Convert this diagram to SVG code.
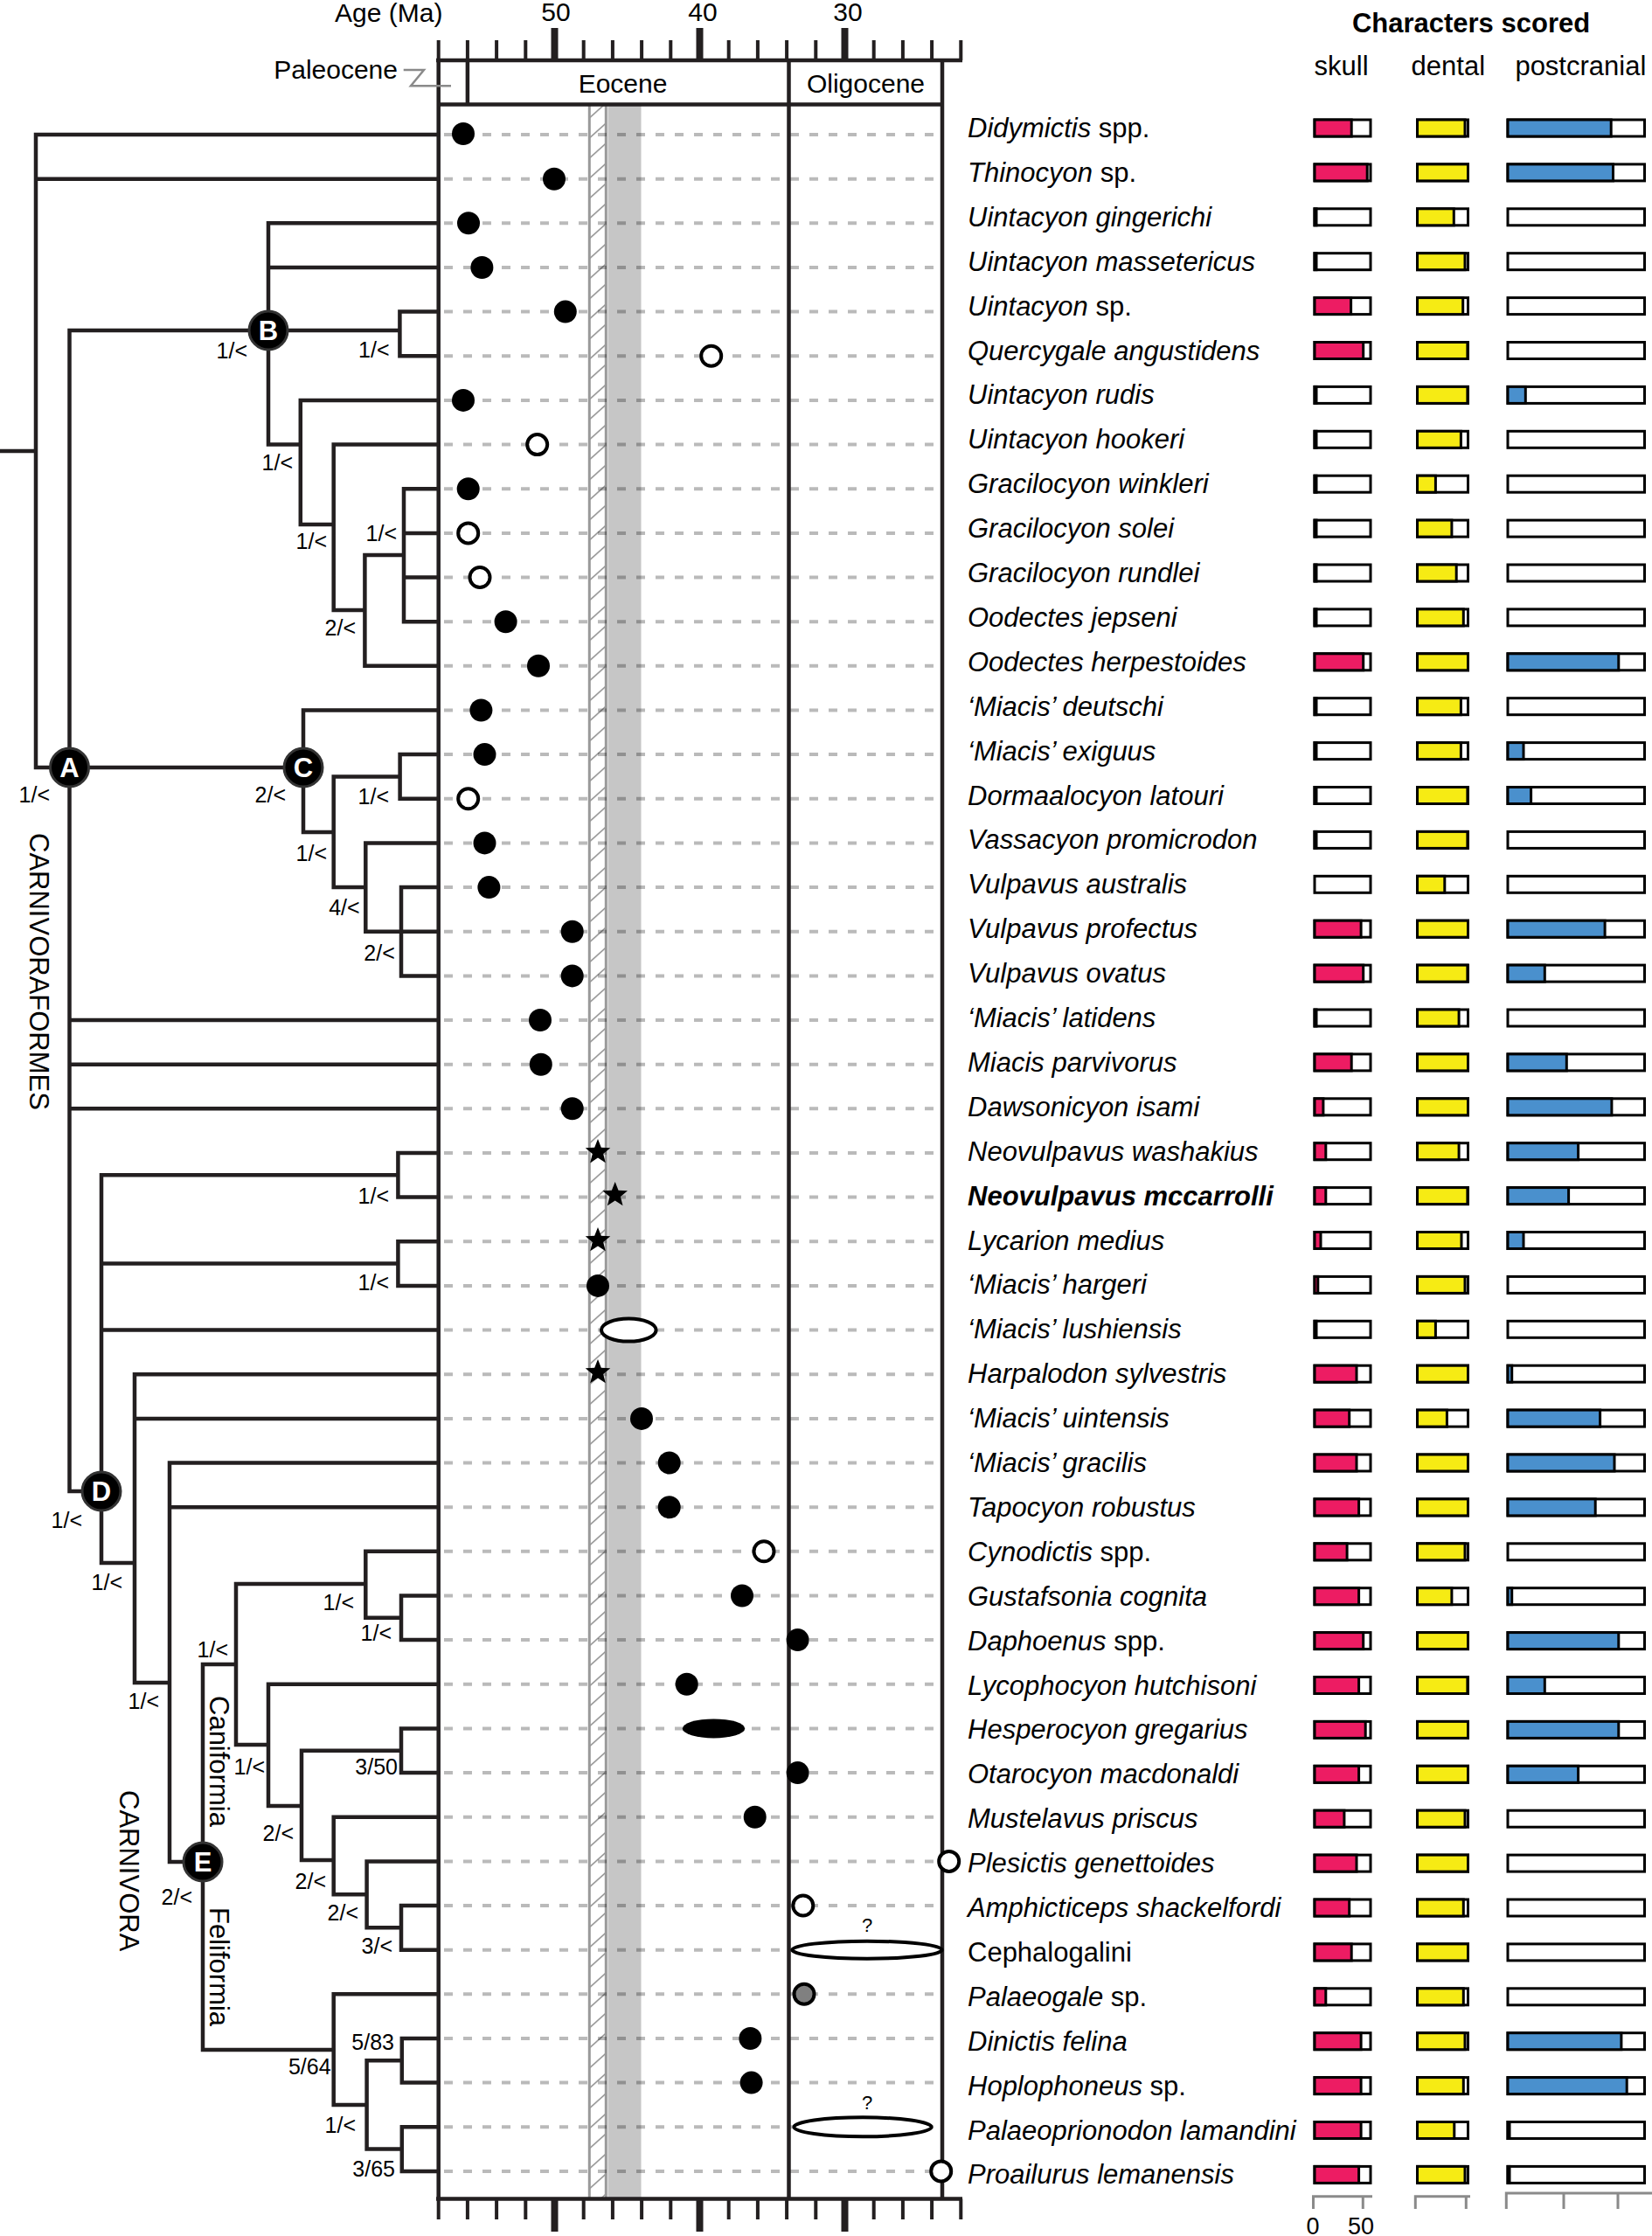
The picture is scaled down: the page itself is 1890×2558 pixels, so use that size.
<svg xmlns="http://www.w3.org/2000/svg" xmlns:xlink="http://www.w3.org/1999/xlink" width="1890" height="2558" viewBox="0 0 1890 2558">
<style>
text{font-family:"Liberation Sans",Arial,Helvetica,sans-serif;fill:#000}
.tx{font-size:31px}
.i{font-style:italic}
.lb{font-size:25px}
.ax{font-size:30px}
.ln{fill:none;stroke:#231f20;stroke-width:4.5;stroke-linecap:square;stroke-linejoin:miter}
.fr{fill:none;stroke:#231f20;stroke-width:4.5}
.dash{fill:none;stroke:#000;stroke-opacity:0.27;stroke-width:4;stroke-dasharray:10 12}
.fd{fill:#000}
.op{fill:#fff;stroke:#000;stroke-width:4}
.bo{fill:#fff;stroke:#000;stroke-width:3}
.sk{fill:#ed1c63;stroke:#000;stroke-width:3}
.de{fill:#f6eb14;stroke:#000;stroke-width:3}
.po{fill:#4a90cd;stroke:#000;stroke-width:3}
.nc{fill:#000;stroke:#333;stroke-width:3}
.nl{font-size:31px;font-weight:bold;fill:#fff;text-anchor:middle}
.gs{fill:none;stroke:#8a8a8a;stroke-width:3}
</style>
<defs>
<pattern id="hatch" patternUnits="userSpaceOnUse" x="674.3" y="0" width="19" height="23">
<path d="M0,20 L19,3" stroke="#8a8a8a" stroke-width="1.5"/>
</pattern>
<path id="star" d="M0,-15 L3.82,-5.26 L14.27,-4.64 L6.18,2.01 L8.82,12.14 L0,6.5 L-8.82,12.14 L-6.18,2.01 L-14.27,-4.64 L-3.82,-5.26 Z"/>
</defs>
<rect width="1890" height="2558" fill="#fff"/>

<g id="timescale">
<rect x="674.3" y="121" width="19" height="2393" fill="url(#hatch)"/>
<rect x="695.5" y="121" width="38" height="2393" fill="#c6c6c6"/>
<path d="M674.3,121 V2514 M693.3,121 V2514" stroke="#999" stroke-width="3" fill="none"/>
<path class="dash" d="M508,154 H1076 M508,204.7 H1076 M508,255.3 H1076 M508,306 H1076 M508,356.6 H1076 M508,407.3 H1076 M508,457.9 H1076 M508,508.6 H1076 M508,559.2 H1076 M508,609.9 H1076 M508,660.5 H1076 M508,711.2 H1076 M508,761.8 H1076 M508,812.5 H1076 M508,863.1 H1076 M508,913.8 H1076 M508,964.4 H1076 M508,1015.1 H1076 M508,1065.7 H1076 M508,1116.4 H1076 M508,1167 H1076 M508,1217.7 H1076 M508,1268.3 H1076 M508,1319 H1076 M508,1369.6 H1076 M508,1420.3 H1076 M508,1470.9 H1076 M508,1521.6 H1076 M508,1572.2 H1076 M508,1622.9 H1076 M508,1673.5 H1076 M508,1724.2 H1076 M508,1774.8 H1076 M508,1825.5 H1076 M508,1876.1 H1076 M508,1926.8 H1076 M508,1977.4 H1076 M508,2028.1 H1076 M508,2078.7 H1076 M508,2129.4 H1076 M508,2180 H1076 M508,2230.7 H1076 M508,2281.3 H1076 M508,2332 H1076 M508,2382.6 H1076 M508,2433.3 H1076 M508,2483.9 H1076"/>
<rect x="501.7" y="69" width="576.3" height="50.5" fill="#fff" stroke="none"/>
<path class="fr" d="M501.7,69 V2515.6 M1078,69 V2515.6 M902.5,69 V2515.6 M534.9,69 V119.5 M501.7,119.5 H1078 M499,69 H1101 M499,2515.6 H1101"/>
<path d="M501.7,46 V69 M534.9,46 V69 M568.1,46 V69 M601.3,46 V69 M667.7,46 V69 M700.9,46 V69 M734.1,46 V69 M767.3,46 V69 M833.7,46 V69 M866.9,46 V69 M900.1,46 V69 M933.3,46 V69 M999.7,46 V69 M1032.9,46 V69 M1066.1,46 V69 M1099.3,46 V69" stroke="#231f20" stroke-width="4" fill="none"/>
<path d="M634.5,32 V69 M800.5,32 V69 M966.5,32 V69" stroke="#231f20" stroke-width="8" fill="none"/>
<path d="M501.7,2515.6 V2539 M534.9,2515.6 V2539 M568.1,2515.6 V2539 M601.3,2515.6 V2539 M667.7,2515.6 V2539 M700.9,2515.6 V2539 M734.1,2515.6 V2539 M767.3,2515.6 V2539 M833.7,2515.6 V2539 M866.9,2515.6 V2539 M900.1,2515.6 V2539 M933.3,2515.6 V2539 M999.7,2515.6 V2539 M1032.9,2515.6 V2539 M1066.1,2515.6 V2539 M1099.3,2515.6 V2539" stroke="#231f20" stroke-width="4" fill="none"/>
<path d="M634.5,2515.6 V2553 M800.5,2515.6 V2553 M966.5,2515.6 V2553" stroke="#231f20" stroke-width="8" fill="none"/>
<text class="ax" x="383" y="25" font-size="31">Age (Ma)</text>
<text class="ax" x="636" y="24" text-anchor="middle">50</text>
<text class="ax" x="804" y="24" text-anchor="middle">40</text>
<text class="ax" x="970" y="24" text-anchor="middle">30</text>
<text class="ax" x="455" y="90" text-anchor="end">Paleocene</text>
<polyline points="461.7,80 485,80 470,98.3 516,98.3" fill="none" stroke="#8a8a8a" stroke-width="2.5"/>
<text class="ax" x="712.5" y="106" text-anchor="middle">Eocene</text>
<text class="ax" x="990.5" y="106" text-anchor="middle">Oligocene</text>
</g>

<g id="connectors" class="ln">
<path d="M0,516 H41 M41,154 V878 H79.5 M41,154 H501 M41,204.7 H501
M79.5,378 V1706 H116 M79.5,378 H457.4 M79.5,878 H347 M79.5,1167 H501 M79.5,1217.7 H501 M79.5,1268.3 H501
M307,255.3 V508.6 H343.8 M307,255.3 H501 M307,306 H501
M457.4,356.6 V407.3 M457.4,356.6 H501 M457.4,407.3 H501
M343.8,457.9 V600 H381.7 M343.8,457.9 H501
M381.7,508.6 V698 H417.4 M381.7,508.6 H501
M417.4,635 V761.8 H501 M417.4,635 H462
M462,559.2 V711.2 M462,559.2 H501 M462,609.9 H501 M462,660.5 H501 M462,711.2 H501
M347,812.5 V952 H381.7 M347,812.5 H501
M381.7,888.4 V1015 H418.3 M381.7,888.4 H457.6
M457.6,863.1 V913.8 M457.6,863.1 H501 M457.6,913.8 H501
M418.3,964.4 V1065.7 H501 M418.3,964.4 H501
M459,1015.1 V1116.4 M459,1015.1 H501 M459,1116.4 H501
M116,1344.3 V1788 H154 M116,1344.3 H455.4 M116,1445.6 H455.4 M116,1521.6 H501
M455.4,1319 V1369.6 M455.4,1319 H501 M455.4,1369.6 H501
M455.4,1420.3 V1470.9 M455.4,1420.3 H501 M455.4,1470.9 H501
M154,1572.2 V1925 H194 M154,1572.2 H501 M154,1622.9 H501
M194,1673.5 V2130 H232 M194,1673.5 H501 M194,1724.2 H501
M232,1904 V2345 H381.7 M232,1904 H270
M270,1812 V1996 H307 M270,1812 H418.3
M418.3,1774.8 V1850.8 H459 M418.3,1774.8 H501
M459,1825.5 V1876.1 M459,1825.5 H501 M459,1876.1 H501
M307,1926.8 V2066 H345 M307,1926.8 H501
M345,2002.7 V2128 H381.7 M345,2002.7 H459
M459,1977.4 V2028.1 M459,1977.4 H501 M459,2028.1 H501
M381.7,2078.7 V2167.3 H419.6 M381.7,2078.7 H501
M419.6,2129.4 V2205.3 H459 M419.6,2129.4 H501
M459,2180 V2230.7 M459,2180 H501 M459,2230.7 H501
M381.7,2281.3 V2408 H419.6 M381.7,2281.3 H501
M419.6,2357.3 V2458.6 H459.8 M419.6,2357.3 H459.8
M459.8,2332 V2382.6 M459.8,2332 H501 M459.8,2382.6 H501
M459.8,2433.3 V2483.9 M459.8,2433.3 H501 M459.8,2483.9 H501"/>
</g>

<g id="support-labels" class="lb" text-anchor="end">
<text x="57" y="917.5">1/&lt;</text>
<text x="283" y="410">1/&lt;</text>
<text x="445.5" y="409">1/&lt;</text>
<text x="335" y="538">1/&lt;</text>
<text x="374" y="627.5">1/&lt;</text>
<text x="454" y="618.5">1/&lt;</text>
<text x="407" y="726.5">2/&lt;</text>
<text x="327" y="917.5">2/&lt;</text>
<text x="445" y="919.5">1/&lt;</text>
<text x="374" y="984.5">1/&lt;</text>
<text x="411.6" y="1047">4/&lt;</text>
<text x="451.8" y="1098.5">2/&lt;</text>
<text x="445" y="1376.5">1/&lt;</text>
<text x="445" y="1475.5">1/&lt;</text>
<text x="94" y="1748">1/&lt;</text>
<text x="140" y="1818.5">1/&lt;</text>
<text x="182" y="1954.5">1/&lt;</text>
<text x="220" y="2178.5">2/&lt;</text>
<text x="261" y="1896">1/&lt;</text>
<text x="405" y="1841.5">1/&lt;</text>
<text x="448" y="1876.5">1/&lt;</text>
<text x="303" y="2030">1/&lt;</text>
<text x="455" y="2030">3/50</text>
<text x="336" y="2105.5">2/&lt;</text>
<text x="373" y="2160.5">2/&lt;</text>
<text x="410" y="2197">2/&lt;</text>
<text x="449" y="2234.5">3/&lt;</text>
<text x="378.6" y="2372.5">5/64</text>
<text x="451" y="2344.5">5/83</text>
<text x="407" y="2439.5">1/&lt;</text>
<text x="452" y="2489.5">3/65</text>
</g>

<g id="clade-names" font-size="31">
<text transform="translate(33.5,953) rotate(90)">CARNIVORAFORMES</text>
<text transform="translate(136.5,2048) rotate(90)">CARNIVORA</text>
<text transform="translate(239.5,1940) rotate(90)">Caniformia</text>
<text transform="translate(239.5,2182) rotate(90)">Feliformia</text>
</g>

<g id="nA"><circle class="nc" cx="79.5" cy="878" r="22"/><text class="nl" x="79.5" y="889">A</text></g>
<g id="nB"><circle class="nc" cx="307" cy="378" r="22"/><text class="nl" x="307" y="389">B</text></g>
<g id="nC"><circle class="nc" cx="347" cy="878" r="22"/><text class="nl" x="347" y="889">C</text></g>
<g id="nD"><circle class="nc" cx="116" cy="1706" r="22"/><text class="nl" x="116" y="1717">D</text></g>
<g id="nE"><circle class="nc" cx="232" cy="2130" r="22"/><text class="nl" x="232" y="2141">E</text></g>

<g id="occurrences">
<circle class="fd" cx="530" cy="153" r="13"/>
<circle class="fd" cx="634" cy="204.7" r="13"/>
<circle class="fd" cx="536" cy="255.3" r="13"/>
<circle class="fd" cx="551.4" cy="306" r="13"/>
<circle class="fd" cx="646.8" cy="356.6" r="13"/>
<circle class="op" cx="813.7" cy="407.3" r="11.5"/>
<circle class="fd" cx="530" cy="457.9" r="13"/>
<circle class="op" cx="614.7" cy="508.6" r="11.5"/>
<circle class="fd" cx="535.7" cy="559.2" r="13"/>
<circle class="op" cx="535.7" cy="609.9" r="11.5"/>
<circle class="op" cx="549" cy="660.5" r="11.5"/>
<circle class="fd" cx="578.6" cy="711.2" r="13"/>
<circle class="fd" cx="616" cy="761.8" r="13"/>
<circle class="fd" cx="550.4" cy="812.5" r="13"/>
<circle class="fd" cx="554.5" cy="863.1" r="13"/>
<circle class="op" cx="535.7" cy="913.8" r="11.5"/>
<circle class="fd" cx="554.5" cy="964.4" r="13"/>
<circle class="fd" cx="559.4" cy="1015.1" r="13"/>
<circle class="fd" cx="654.7" cy="1065.7" r="13"/>
<circle class="fd" cx="654.7" cy="1116.4" r="13"/>
<circle class="fd" cx="618" cy="1167" r="13"/>
<circle class="fd" cx="618.8" cy="1217.7" r="13"/>
<circle class="fd" cx="654.7" cy="1268.3" r="13"/>
<use xlink:href="#star" x="684" y="1318"/>
<use xlink:href="#star" x="703.7" y="1367"/>
<use xlink:href="#star" x="684" y="1419"/>
<circle class="fd" cx="684" cy="1470.9" r="13"/>
<ellipse class="op" cx="719.3" cy="1521.6" rx="31.3" ry="13"/>
<use xlink:href="#star" x="684" y="1570"/>
<circle class="fd" cx="734" cy="1622.9" r="13"/>
<circle class="fd" cx="765.7" cy="1673.5" r="13"/>
<circle class="fd" cx="765.7" cy="1724.2" r="13"/>
<circle class="op" cx="874" cy="1774.8" r="11.5"/>
<circle class="fd" cx="849" cy="1825.5" r="13"/>
<circle class="fd" cx="912.6" cy="1876.1" r="13"/>
<circle class="fd" cx="785.7" cy="1926.8" r="13"/>
<ellipse class="fd" cx="816.5" cy="1977.4" rx="35.7" ry="11"/>
<circle class="fd" cx="912.6" cy="2028.1" r="13"/>
<circle class="fd" cx="863.7" cy="2078.7" r="13"/>
<circle class="op" cx="1085.7" cy="2129.4" r="11.5"/>
<circle class="op" cx="918.8" cy="2180" r="11.5"/>
<ellipse class="op" cx="992" cy="2230.7" rx="85.7" ry="10"/>
<text x="992" y="2210" font-size="22" text-anchor="middle">?</text>
<circle cx="920" cy="2281.3" r="11.5" fill="#808080" stroke="#000" stroke-width="4"/>
<circle class="fd" cx="858.4" cy="2332" r="13"/>
<circle class="fd" cx="859.6" cy="2382.6" r="13"/>
<ellipse class="op" cx="987" cy="2433.3" rx="78.6" ry="11"/>
<text x="992" y="2413" font-size="22" text-anchor="middle">?</text>
<circle class="op" cx="1076.7" cy="2483.9" r="11.5"/>
</g>

<g id="headers">
<text x="1683" y="37" font-size="31" font-weight="bold" text-anchor="middle">Characters scored</text>
<text class="tx" x="1503.6" y="86">skull</text>
<text class="tx" x="1614.6" y="86">dental</text>
<text class="tx" x="1733.4" y="86">postcranial</text>
</g>

<g id="t1" transform="translate(0,146.5)"><text class="tx" x="1107" y="10.5"><tspan class="i">Didymictis</tspan> spp.</text><rect class="bo" x="1504" y="-9.5" width="64" height="19"/><rect class="bo" x="1621.5" y="-9.5" width="58" height="19"/><rect class="bo" x="1725" y="-9.5" width="156.5" height="19"/><rect class="sk" x="1504" y="-9.5" width="42.2" height="19"/><rect class="de" x="1621.5" y="-9.5" width="54.5" height="19"/><rect class="po" x="1725" y="-9.5" width="118.2" height="19"/></g>
<g id="t2" transform="translate(0,197.4)"><text class="tx" x="1107" y="10.5"><tspan class="i">Thinocyon</tspan> sp.</text><rect class="bo" x="1504" y="-9.5" width="64" height="19"/><rect class="bo" x="1621.5" y="-9.5" width="58" height="19"/><rect class="bo" x="1725" y="-9.5" width="156.5" height="19"/><rect class="sk" x="1504" y="-9.5" width="60.2" height="19"/><rect class="de" x="1621.5" y="-9.5" width="58" height="19"/><rect class="po" x="1725" y="-9.5" width="120.5" height="19"/></g>
<g id="t3" transform="translate(0,248.3)"><text class="tx i" x="1107" y="10.5">Uintacyon gingerichi</text><rect class="bo" x="1504" y="-9.5" width="64" height="19"/><rect class="bo" x="1621.5" y="-9.5" width="58" height="19"/><rect class="bo" x="1725" y="-9.5" width="156.5" height="19"/><rect class="sk" x="1504" y="-9.5" width="2" height="19"/><rect class="de" x="1621.5" y="-9.5" width="41.8" height="19"/></g>
<g id="t4" transform="translate(0,299.2)"><text class="tx i" x="1107" y="10.5">Uintacyon massetericus</text><rect class="bo" x="1504" y="-9.5" width="64" height="19"/><rect class="bo" x="1621.5" y="-9.5" width="58" height="19"/><rect class="bo" x="1725" y="-9.5" width="156.5" height="19"/><rect class="sk" x="1504" y="-9.5" width="2" height="19"/><rect class="de" x="1621.5" y="-9.5" width="54.5" height="19"/></g>
<g id="t5" transform="translate(0,350.1)"><text class="tx" x="1107" y="10.5"><tspan class="i">Uintacyon</tspan> sp.</text><rect class="bo" x="1504" y="-9.5" width="64" height="19"/><rect class="bo" x="1621.5" y="-9.5" width="58" height="19"/><rect class="bo" x="1725" y="-9.5" width="156.5" height="19"/><rect class="sk" x="1504" y="-9.5" width="41.6" height="19"/><rect class="de" x="1621.5" y="-9.5" width="52.2" height="19"/></g>
<g id="t6" transform="translate(0,401)"><text class="tx i" x="1107" y="10.5">Quercygale angustidens</text><rect class="bo" x="1504" y="-9.5" width="64" height="19"/><rect class="bo" x="1621.5" y="-9.5" width="58" height="19"/><rect class="bo" x="1725" y="-9.5" width="156.5" height="19"/><rect class="sk" x="1504" y="-9.5" width="55.7" height="19"/><rect class="de" x="1621.5" y="-9.5" width="57.4" height="19"/></g>
<g id="t7" transform="translate(0,451.9)"><text class="tx i" x="1107" y="10.5">Uintacyon rudis</text><rect class="bo" x="1504" y="-9.5" width="64" height="19"/><rect class="bo" x="1621.5" y="-9.5" width="58" height="19"/><rect class="bo" x="1725" y="-9.5" width="156.5" height="19"/><rect class="sk" x="1504" y="-9.5" width="2" height="19"/><rect class="de" x="1621.5" y="-9.5" width="57.4" height="19"/><rect class="po" x="1725" y="-9.5" width="20.3" height="19"/></g>
<g id="t8" transform="translate(0,502.8)"><text class="tx i" x="1107" y="10.5">Uintacyon hookeri</text><rect class="bo" x="1504" y="-9.5" width="64" height="19"/><rect class="bo" x="1621.5" y="-9.5" width="58" height="19"/><rect class="bo" x="1725" y="-9.5" width="156.5" height="19"/><rect class="sk" x="1504" y="-9.5" width="2" height="19"/><rect class="de" x="1621.5" y="-9.5" width="49.9" height="19"/></g>
<g id="t9" transform="translate(0,553.7)"><text class="tx i" x="1107" y="10.5">Gracilocyon winkleri</text><rect class="bo" x="1504" y="-9.5" width="64" height="19"/><rect class="bo" x="1621.5" y="-9.5" width="58" height="19"/><rect class="bo" x="1725" y="-9.5" width="156.5" height="19"/><rect class="sk" x="1504" y="-9.5" width="2" height="19"/><rect class="de" x="1621.5" y="-9.5" width="20.9" height="19"/></g>
<g id="t10" transform="translate(0,604.6)"><text class="tx i" x="1107" y="10.5">Gracilocyon solei</text><rect class="bo" x="1504" y="-9.5" width="64" height="19"/><rect class="bo" x="1621.5" y="-9.5" width="58" height="19"/><rect class="bo" x="1725" y="-9.5" width="156.5" height="19"/><rect class="sk" x="1504" y="-9.5" width="2" height="19"/><rect class="de" x="1621.5" y="-9.5" width="39.4" height="19"/></g>
<g id="t11" transform="translate(0,655.5)"><text class="tx i" x="1107" y="10.5">Gracilocyon rundlei</text><rect class="bo" x="1504" y="-9.5" width="64" height="19"/><rect class="bo" x="1621.5" y="-9.5" width="58" height="19"/><rect class="bo" x="1725" y="-9.5" width="156.5" height="19"/><rect class="sk" x="1504" y="-9.5" width="2" height="19"/><rect class="de" x="1621.5" y="-9.5" width="44.7" height="19"/></g>
<g id="t12" transform="translate(0,706.4)"><text class="tx i" x="1107" y="10.5">Oodectes jepseni</text><rect class="bo" x="1504" y="-9.5" width="64" height="19"/><rect class="bo" x="1621.5" y="-9.5" width="58" height="19"/><rect class="bo" x="1725" y="-9.5" width="156.5" height="19"/><rect class="sk" x="1504" y="-9.5" width="2" height="19"/><rect class="de" x="1621.5" y="-9.5" width="52.8" height="19"/></g>
<g id="t13" transform="translate(0,757.3)"><text class="tx i" x="1107" y="10.5">Oodectes herpestoides</text><rect class="bo" x="1504" y="-9.5" width="64" height="19"/><rect class="bo" x="1621.5" y="-9.5" width="58" height="19"/><rect class="bo" x="1725" y="-9.5" width="156.5" height="19"/><rect class="sk" x="1504" y="-9.5" width="55.7" height="19"/><rect class="de" x="1621.5" y="-9.5" width="58" height="19"/><rect class="po" x="1725" y="-9.5" width="126.8" height="19"/></g>
<g id="t14" transform="translate(0,808.2)"><text class="tx i" x="1107" y="10.5">‘Miacis’ deutschi</text><rect class="bo" x="1504" y="-9.5" width="64" height="19"/><rect class="bo" x="1621.5" y="-9.5" width="58" height="19"/><rect class="bo" x="1725" y="-9.5" width="156.5" height="19"/><rect class="sk" x="1504" y="-9.5" width="2" height="19"/><rect class="de" x="1621.5" y="-9.5" width="49.9" height="19"/></g>
<g id="t15" transform="translate(0,859.1)"><text class="tx i" x="1107" y="10.5">‘Miacis’ exiguus</text><rect class="bo" x="1504" y="-9.5" width="64" height="19"/><rect class="bo" x="1621.5" y="-9.5" width="58" height="19"/><rect class="bo" x="1725" y="-9.5" width="156.5" height="19"/><rect class="sk" x="1504" y="-9.5" width="2" height="19"/><rect class="de" x="1621.5" y="-9.5" width="49.9" height="19"/><rect class="po" x="1725" y="-9.5" width="18" height="19"/></g>
<g id="t16" transform="translate(0,910)"><text class="tx i" x="1107" y="10.5">Dormaalocyon latouri</text><rect class="bo" x="1504" y="-9.5" width="64" height="19"/><rect class="bo" x="1621.5" y="-9.5" width="58" height="19"/><rect class="bo" x="1725" y="-9.5" width="156.5" height="19"/><rect class="sk" x="1504" y="-9.5" width="2" height="19"/><rect class="de" x="1621.5" y="-9.5" width="57.4" height="19"/><rect class="po" x="1725" y="-9.5" width="26.6" height="19"/></g>
<g id="t17" transform="translate(0,960.9)"><text class="tx i" x="1107" y="10.5">Vassacyon promicrodon</text><rect class="bo" x="1504" y="-9.5" width="64" height="19"/><rect class="bo" x="1621.5" y="-9.5" width="58" height="19"/><rect class="bo" x="1725" y="-9.5" width="156.5" height="19"/><rect class="sk" x="1504" y="-9.5" width="2" height="19"/><rect class="de" x="1621.5" y="-9.5" width="57.4" height="19"/></g>
<g id="t18" transform="translate(0,1011.8)"><text class="tx i" x="1107" y="10.5">Vulpavus australis</text><rect class="bo" x="1504" y="-9.5" width="64" height="19"/><rect class="bo" x="1621.5" y="-9.5" width="58" height="19"/><rect class="bo" x="1725" y="-9.5" width="156.5" height="19"/><rect class="de" x="1621.5" y="-9.5" width="31.3" height="19"/></g>
<g id="t19" transform="translate(0,1062.7)"><text class="tx i" x="1107" y="10.5">Vulpavus profectus</text><rect class="bo" x="1504" y="-9.5" width="64" height="19"/><rect class="bo" x="1621.5" y="-9.5" width="58" height="19"/><rect class="bo" x="1725" y="-9.5" width="156.5" height="19"/><rect class="sk" x="1504" y="-9.5" width="53.1" height="19"/><rect class="de" x="1621.5" y="-9.5" width="58" height="19"/><rect class="po" x="1725" y="-9.5" width="111.1" height="19"/></g>
<g id="t20" transform="translate(0,1113.6)"><text class="tx i" x="1107" y="10.5">Vulpavus ovatus</text><rect class="bo" x="1504" y="-9.5" width="64" height="19"/><rect class="bo" x="1621.5" y="-9.5" width="58" height="19"/><rect class="bo" x="1725" y="-9.5" width="156.5" height="19"/><rect class="sk" x="1504" y="-9.5" width="55.7" height="19"/><rect class="de" x="1621.5" y="-9.5" width="57.4" height="19"/><rect class="po" x="1725" y="-9.5" width="42.3" height="19"/></g>
<g id="t21" transform="translate(0,1164.5)"><text class="tx i" x="1107" y="10.5">‘Miacis’ latidens</text><rect class="bo" x="1504" y="-9.5" width="64" height="19"/><rect class="bo" x="1621.5" y="-9.5" width="58" height="19"/><rect class="bo" x="1725" y="-9.5" width="156.5" height="19"/><rect class="sk" x="1504" y="-9.5" width="2" height="19"/><rect class="de" x="1621.5" y="-9.5" width="47.6" height="19"/></g>
<g id="t22" transform="translate(0,1215.4)"><text class="tx i" x="1107" y="10.5">Miacis parvivorus</text><rect class="bo" x="1504" y="-9.5" width="64" height="19"/><rect class="bo" x="1621.5" y="-9.5" width="58" height="19"/><rect class="bo" x="1725" y="-9.5" width="156.5" height="19"/><rect class="sk" x="1504" y="-9.5" width="42.2" height="19"/><rect class="de" x="1621.5" y="-9.5" width="58" height="19"/><rect class="po" x="1725" y="-9.5" width="67.3" height="19"/></g>
<g id="t23" transform="translate(0,1266.3)"><text class="tx i" x="1107" y="10.5">Dawsonicyon isami</text><rect class="bo" x="1504" y="-9.5" width="64" height="19"/><rect class="bo" x="1621.5" y="-9.5" width="58" height="19"/><rect class="bo" x="1725" y="-9.5" width="156.5" height="19"/><rect class="sk" x="1504" y="-9.5" width="9.9" height="19"/><rect class="de" x="1621.5" y="-9.5" width="58" height="19"/><rect class="po" x="1725" y="-9.5" width="118.9" height="19"/></g>
<g id="t24" transform="translate(0,1317.2)"><text class="tx i" x="1107" y="10.5">Neovulpavus washakius</text><rect class="bo" x="1504" y="-9.5" width="64" height="19"/><rect class="bo" x="1621.5" y="-9.5" width="58" height="19"/><rect class="bo" x="1725" y="-9.5" width="156.5" height="19"/><rect class="sk" x="1504" y="-9.5" width="12.8" height="19"/><rect class="de" x="1621.5" y="-9.5" width="47.6" height="19"/><rect class="po" x="1725" y="-9.5" width="80.6" height="19"/></g>
<g id="t25" transform="translate(0,1368.1)"><text class="tx i" x="1107" y="10.5" font-weight="bold">Neovulpavus mccarrolli</text><rect class="bo" x="1504" y="-9.5" width="64" height="19"/><rect class="bo" x="1621.5" y="-9.5" width="58" height="19"/><rect class="bo" x="1725" y="-9.5" width="156.5" height="19"/><rect class="sk" x="1504" y="-9.5" width="12.8" height="19"/><rect class="de" x="1621.5" y="-9.5" width="57.4" height="19"/><rect class="po" x="1725" y="-9.5" width="69.6" height="19"/></g>
<g id="t26" transform="translate(0,1419)"><text class="tx i" x="1107" y="10.5">Lycarion medius</text><rect class="bo" x="1504" y="-9.5" width="64" height="19"/><rect class="bo" x="1621.5" y="-9.5" width="58" height="19"/><rect class="bo" x="1725" y="-9.5" width="156.5" height="19"/><rect class="sk" x="1504" y="-9.5" width="7" height="19"/><rect class="de" x="1621.5" y="-9.5" width="50.5" height="19"/><rect class="po" x="1725" y="-9.5" width="18" height="19"/></g>
<g id="t27" transform="translate(0,1469.9)"><text class="tx i" x="1107" y="10.5">‘Miacis’ hargeri</text><rect class="bo" x="1504" y="-9.5" width="64" height="19"/><rect class="bo" x="1621.5" y="-9.5" width="58" height="19"/><rect class="bo" x="1725" y="-9.5" width="156.5" height="19"/><rect class="sk" x="1504" y="-9.5" width="3.8" height="19"/><rect class="de" x="1621.5" y="-9.5" width="54.5" height="19"/></g>
<g id="t28" transform="translate(0,1520.8)"><text class="tx i" x="1107" y="10.5">‘Miacis’ lushiensis</text><rect class="bo" x="1504" y="-9.5" width="64" height="19"/><rect class="bo" x="1621.5" y="-9.5" width="58" height="19"/><rect class="bo" x="1725" y="-9.5" width="156.5" height="19"/><rect class="sk" x="1504" y="-9.5" width="2" height="19"/><rect class="de" x="1621.5" y="-9.5" width="20.9" height="19"/></g>
<g id="t29" transform="translate(0,1571.7)"><text class="tx i" x="1107" y="10.5">Harpalodon sylvestris</text><rect class="bo" x="1504" y="-9.5" width="64" height="19"/><rect class="bo" x="1621.5" y="-9.5" width="58" height="19"/><rect class="bo" x="1725" y="-9.5" width="156.5" height="19"/><rect class="sk" x="1504" y="-9.5" width="48" height="19"/><rect class="de" x="1621.5" y="-9.5" width="58" height="19"/><rect class="po" x="1725" y="-9.5" width="4.7" height="19"/></g>
<g id="t30" transform="translate(0,1622.6)"><text class="tx i" x="1107" y="10.5">‘Miacis’ uintensis</text><rect class="bo" x="1504" y="-9.5" width="64" height="19"/><rect class="bo" x="1621.5" y="-9.5" width="58" height="19"/><rect class="bo" x="1725" y="-9.5" width="156.5" height="19"/><rect class="sk" x="1504" y="-9.5" width="39.7" height="19"/><rect class="de" x="1621.5" y="-9.5" width="33.9" height="19"/><rect class="po" x="1725" y="-9.5" width="105.6" height="19"/></g>
<g id="t31" transform="translate(0,1673.5)"><text class="tx i" x="1107" y="10.5">‘Miacis’ gracilis</text><rect class="bo" x="1504" y="-9.5" width="64" height="19"/><rect class="bo" x="1621.5" y="-9.5" width="58" height="19"/><rect class="bo" x="1725" y="-9.5" width="156.5" height="19"/><rect class="sk" x="1504" y="-9.5" width="48" height="19"/><rect class="de" x="1621.5" y="-9.5" width="58" height="19"/><rect class="po" x="1725" y="-9.5" width="122" height="19"/></g>
<g id="t32" transform="translate(0,1724.4)"><text class="tx i" x="1107" y="10.5">Tapocyon robustus</text><rect class="bo" x="1504" y="-9.5" width="64" height="19"/><rect class="bo" x="1621.5" y="-9.5" width="58" height="19"/><rect class="bo" x="1725" y="-9.5" width="156.5" height="19"/><rect class="sk" x="1504" y="-9.5" width="50.6" height="19"/><rect class="de" x="1621.5" y="-9.5" width="58" height="19"/><rect class="po" x="1725" y="-9.5" width="100.2" height="19"/></g>
<g id="t33" transform="translate(0,1775.3)"><text class="tx" x="1107" y="10.5"><tspan class="i">Cynodictis</tspan> spp.</text><rect class="bo" x="1504" y="-9.5" width="64" height="19"/><rect class="bo" x="1621.5" y="-9.5" width="58" height="19"/><rect class="bo" x="1725" y="-9.5" width="156.5" height="19"/><rect class="sk" x="1504" y="-9.5" width="37.1" height="19"/><rect class="de" x="1621.5" y="-9.5" width="54.5" height="19"/></g>
<g id="t34" transform="translate(0,1826.2)"><text class="tx i" x="1107" y="10.5">Gustafsonia cognita</text><rect class="bo" x="1504" y="-9.5" width="64" height="19"/><rect class="bo" x="1621.5" y="-9.5" width="58" height="19"/><rect class="bo" x="1725" y="-9.5" width="156.5" height="19"/><rect class="sk" x="1504" y="-9.5" width="50.6" height="19"/><rect class="de" x="1621.5" y="-9.5" width="39.4" height="19"/><rect class="po" x="1725" y="-9.5" width="4.7" height="19"/></g>
<g id="t35" transform="translate(0,1877.1)"><text class="tx" x="1107" y="10.5"><tspan class="i">Daphoenus</tspan> spp.</text><rect class="bo" x="1504" y="-9.5" width="64" height="19"/><rect class="bo" x="1621.5" y="-9.5" width="58" height="19"/><rect class="bo" x="1725" y="-9.5" width="156.5" height="19"/><rect class="sk" x="1504" y="-9.5" width="55.7" height="19"/><rect class="de" x="1621.5" y="-9.5" width="58" height="19"/><rect class="po" x="1725" y="-9.5" width="126.8" height="19"/></g>
<g id="t36" transform="translate(0,1928)"><text class="tx i" x="1107" y="10.5">Lycophocyon hutchisoni</text><rect class="bo" x="1504" y="-9.5" width="64" height="19"/><rect class="bo" x="1621.5" y="-9.5" width="58" height="19"/><rect class="bo" x="1725" y="-9.5" width="156.5" height="19"/><rect class="sk" x="1504" y="-9.5" width="50.6" height="19"/><rect class="de" x="1621.5" y="-9.5" width="57.4" height="19"/><rect class="po" x="1725" y="-9.5" width="42.3" height="19"/></g>
<g id="t37" transform="translate(0,1978.9)"><text class="tx i" x="1107" y="10.5">Hesperocyon gregarius</text><rect class="bo" x="1504" y="-9.5" width="64" height="19"/><rect class="bo" x="1621.5" y="-9.5" width="58" height="19"/><rect class="bo" x="1725" y="-9.5" width="156.5" height="19"/><rect class="sk" x="1504" y="-9.5" width="58.2" height="19"/><rect class="de" x="1621.5" y="-9.5" width="58" height="19"/><rect class="po" x="1725" y="-9.5" width="126.8" height="19"/></g>
<g id="t38" transform="translate(0,2029.8)"><text class="tx i" x="1107" y="10.5">Otarocyon macdonaldi</text><rect class="bo" x="1504" y="-9.5" width="64" height="19"/><rect class="bo" x="1621.5" y="-9.5" width="58" height="19"/><rect class="bo" x="1725" y="-9.5" width="156.5" height="19"/><rect class="sk" x="1504" y="-9.5" width="50.6" height="19"/><rect class="de" x="1621.5" y="-9.5" width="58" height="19"/><rect class="po" x="1725" y="-9.5" width="80.6" height="19"/></g>
<g id="t39" transform="translate(0,2080.7)"><text class="tx i" x="1107" y="10.5">Mustelavus priscus</text><rect class="bo" x="1504" y="-9.5" width="64" height="19"/><rect class="bo" x="1621.5" y="-9.5" width="58" height="19"/><rect class="bo" x="1725" y="-9.5" width="156.5" height="19"/><rect class="sk" x="1504" y="-9.5" width="33.9" height="19"/><rect class="de" x="1621.5" y="-9.5" width="54.5" height="19"/></g>
<g id="t40" transform="translate(0,2131.6)"><text class="tx i" x="1107" y="10.5">Plesictis genettoides</text><rect class="bo" x="1504" y="-9.5" width="64" height="19"/><rect class="bo" x="1621.5" y="-9.5" width="58" height="19"/><rect class="bo" x="1725" y="-9.5" width="156.5" height="19"/><rect class="sk" x="1504" y="-9.5" width="48" height="19"/><rect class="de" x="1621.5" y="-9.5" width="58" height="19"/></g>
<g id="t41" transform="translate(0,2182.5)"><text class="tx i" x="1107" y="10.5">Amphicticeps shackelfordi</text><rect class="bo" x="1504" y="-9.5" width="64" height="19"/><rect class="bo" x="1621.5" y="-9.5" width="58" height="19"/><rect class="bo" x="1725" y="-9.5" width="156.5" height="19"/><rect class="sk" x="1504" y="-9.5" width="39.7" height="19"/><rect class="de" x="1621.5" y="-9.5" width="52.8" height="19"/></g>
<g id="t42" transform="translate(0,2233.4)"><text class="tx" x="1107" y="10.5">Cephalogalini</text><rect class="bo" x="1504" y="-9.5" width="64" height="19"/><rect class="bo" x="1621.5" y="-9.5" width="58" height="19"/><rect class="bo" x="1725" y="-9.5" width="156.5" height="19"/><rect class="sk" x="1504" y="-9.5" width="42.2" height="19"/><rect class="de" x="1621.5" y="-9.5" width="58" height="19"/></g>
<g id="t43" transform="translate(0,2284.3)"><text class="tx" x="1107" y="10.5"><tspan class="i">Palaeogale</tspan> sp.</text><rect class="bo" x="1504" y="-9.5" width="64" height="19"/><rect class="bo" x="1621.5" y="-9.5" width="58" height="19"/><rect class="bo" x="1725" y="-9.5" width="156.5" height="19"/><rect class="sk" x="1504" y="-9.5" width="12.8" height="19"/><rect class="de" x="1621.5" y="-9.5" width="52.8" height="19"/></g>
<g id="t44" transform="translate(0,2335.2)"><text class="tx i" x="1107" y="10.5">Dinictis felina</text><rect class="bo" x="1504" y="-9.5" width="64" height="19"/><rect class="bo" x="1621.5" y="-9.5" width="58" height="19"/><rect class="bo" x="1725" y="-9.5" width="156.5" height="19"/><rect class="sk" x="1504" y="-9.5" width="53.1" height="19"/><rect class="de" x="1621.5" y="-9.5" width="54.5" height="19"/><rect class="po" x="1725" y="-9.5" width="129.9" height="19"/></g>
<g id="t45" transform="translate(0,2386.1)"><text class="tx" x="1107" y="10.5"><tspan class="i">Hoplophoneus</tspan> sp.</text><rect class="bo" x="1504" y="-9.5" width="64" height="19"/><rect class="bo" x="1621.5" y="-9.5" width="58" height="19"/><rect class="bo" x="1725" y="-9.5" width="156.5" height="19"/><rect class="sk" x="1504" y="-9.5" width="53.1" height="19"/><rect class="de" x="1621.5" y="-9.5" width="52.8" height="19"/><rect class="po" x="1725" y="-9.5" width="136.2" height="19"/></g>
<g id="t46" transform="translate(0,2437)"><text class="tx i" x="1107" y="10.5">Palaeoprionodon lamandini</text><rect class="bo" x="1504" y="-9.5" width="64" height="19"/><rect class="bo" x="1621.5" y="-9.5" width="58" height="19"/><rect class="bo" x="1725" y="-9.5" width="156.5" height="19"/><rect class="sk" x="1504" y="-9.5" width="53.1" height="19"/><rect class="de" x="1621.5" y="-9.5" width="42.3" height="19"/><rect class="po" x="1725" y="-9.5" width="2" height="19"/></g>
<g id="t47" transform="translate(0,2487.9)"><text class="tx i" x="1107" y="10.5">Proailurus lemanensis</text><rect class="bo" x="1504" y="-9.5" width="64" height="19"/><rect class="bo" x="1621.5" y="-9.5" width="58" height="19"/><rect class="bo" x="1725" y="-9.5" width="156.5" height="19"/><rect class="sk" x="1504" y="-9.5" width="50.6" height="19"/><rect class="de" x="1621.5" y="-9.5" width="54.5" height="19"/><rect class="po" x="1725" y="-9.5" width="2" height="19"/></g>

<g id="bar-scales">
<path class="gs" d="M1502.5,2527 V2512.7 H1570 M1559.3,2512.7 V2527 M1619.3,2527 V2512.7 H1682 M1677.3,2512.7 V2527 M1723.3,2527 V2509 H1890 M1789,2509 V2527 M1851,2509 V2527"/>
<text x="1502" y="2556" font-size="27" text-anchor="middle">0</text>
<text x="1557" y="2556" font-size="27" text-anchor="middle">50</text>
</g>
</svg>
